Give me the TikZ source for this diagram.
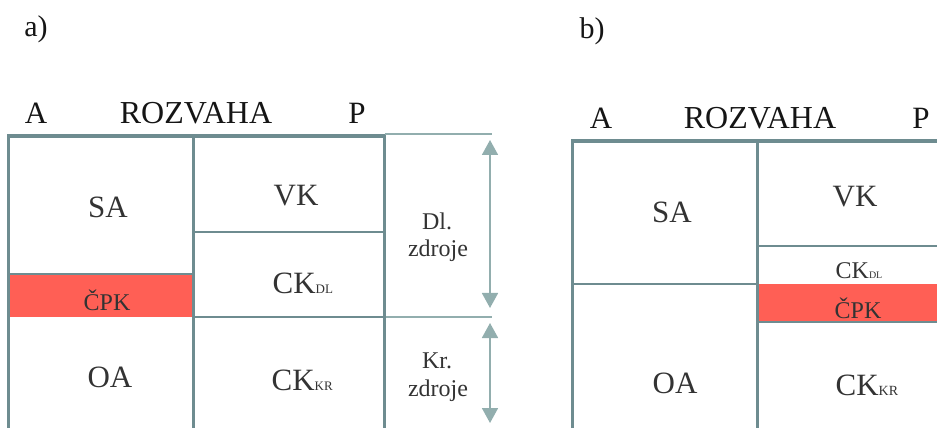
\documentclass[tikz,border=0pt]{standalone}
\usepackage{fontspec}
\setmainfont{Liberation Serif}
\usetikzlibrary{arrows.meta}
\definecolor{boxline}{HTML}{6E8C90}
\definecolor{lightline}{HTML}{92AEAE}
\definecolor{cpkred}{HTML}{FF5F55}
\definecolor{txt}{HTML}{333333}
\definecolor{hdr}{HTML}{151515}
% all sizes given in reference pixels, scaled by 0.3pt per pixel
\newcommand{\sizeof}[1]{\fontsize{\fpeval{0.3*#1}pt}{\fpeval{0.3*#1}pt}\selectfont}
\begin{document}
\begin{tikzpicture}[x=0.3pt,y=-0.3pt,
  hdrtxt/.style={font=\sizeof{31}, text=hdr, inner sep=0pt, anchor=base},
  bigtxt/.style={font=\sizeof{31}, text=txt, inner sep=0pt, anchor=base},
  midtxt/.style={font=\sizeof{24}, text=txt, inner sep=0pt, anchor=base},
  cktxt/.style={text=txt, inner sep=0pt, anchor=base west},
  outerline/.style={draw=boxline, line width=1.08pt},
  innerline/.style={draw=boxline, line width=0.78pt},
  thinline/.style={draw=lightline, line width=0.48pt},
  dimarrow/.style={draw=lightline, line width=0.54pt,
     {Triangle[width=4.8pt,length=4.5pt]}-{Triangle[width=4.8pt,length=4.5pt]}},
  redfill/.style={fill=cpkred, draw=none}
]
\useasboundingbox (0,0) rectangle (937,428);

% ---------- panel a ----------
\node[hdrtxt, font=\sizeof{30}] (la) at (36,37) {a)};
\node[hdrtxt] (aA) at (36,124) {A};
\node[hdrtxt, font=\sizeof{32}] (aR) at (196,124) {ROZVAHA};
\node[hdrtxt] (aP) at (357,124) {P};

\fill[redfill] (9,274) rectangle (193,317);
\draw[innerline] (8.5,274) -- (193.5,274);
\draw[innerline] (193.5,232) -- (384.5,232);
\draw[innerline] (193.5,317) -- (384.5,317);
\draw[innerline] (193.5,136) -- (193.5,432);
\draw[outerline] (8.5,432) -- (8.5,136) -- (384.5,136) -- (384.5,432);

\coordinate (aT1) at (384.5,134);
\coordinate (aT2) at (492,134);
\coordinate (aM1) at (386,317);
\coordinate (aM2) at (492,317);
\draw[thinline] (aT1) -- (aT2);
\draw[thinline] (aM1) -- (aM2);

\coordinate (dlTop) at (490,140);
\coordinate (dlBot) at (490,308);
\coordinate (krTop) at (490,323);
\coordinate (krBot) at (490,423);
\draw[dimarrow] (dlTop) -- (dlBot);
\draw[dimarrow] (krTop) -- (krBot);

\node[bigtxt] (aSA) at (108,218) {SA};
\node[midtxt] (aCPK) at (107,310) {ČPK};
\node[bigtxt] (aOA) at (110,387) {OA};
\node[bigtxt] (aVK) at (296,206) {VK};
\node[cktxt, font=\sizeof{31}] (aCKDL) at (272,293) {CK{\sizeof{13}DL}};
\node[cktxt, font=\sizeof{31}] (aCKKR) at (271,390) {CK{\sizeof{13}KR}};
\node[midtxt] (aDl) at (437,230) {Dl.};
\node[midtxt] (aDz) at (438,257) {zdroje};
\node[midtxt] (aKr) at (437,368) {Kr.};
\node[midtxt] (aKz) at (438,396) {zdroje};

% ---------- panel b ----------
\node[hdrtxt, font=\sizeof{30}] (lb) at (592,39) {b)};
\node[hdrtxt] (bA) at (601,129) {A};
\node[hdrtxt, font=\sizeof{32}] (bR) at (760,129) {ROZVAHA};
\node[hdrtxt] (bP) at (921,129) {P};

\fill[redfill] (758,284) rectangle (940,322);
\draw[innerline] (572.5,284) -- (757.5,284);
\draw[innerline] (757.5,246) -- (940,246);
\draw[innerline] (757.5,322) -- (940,322);
\draw[innerline] (757.5,141) -- (757.5,432);
\draw[outerline] (572.5,432) -- (572.5,141) -- (940,141);

\node[bigtxt] (bSA) at (672,223) {SA};
\node[bigtxt] (bOA) at (675,393) {OA};
\node[bigtxt] (bVK) at (855,207) {VK};
\node[cktxt, font=\sizeof{24}] (bCKDL) at (835,279) {CK{\sizeof{10}DL}};
\node[midtxt] (bCPK) at (858,318) {ČPK};
\node[cktxt, font=\sizeof{31}] (bCKKR) at (835,395) {CK{\sizeof{14}KR}};
\end{tikzpicture}
\end{document}
